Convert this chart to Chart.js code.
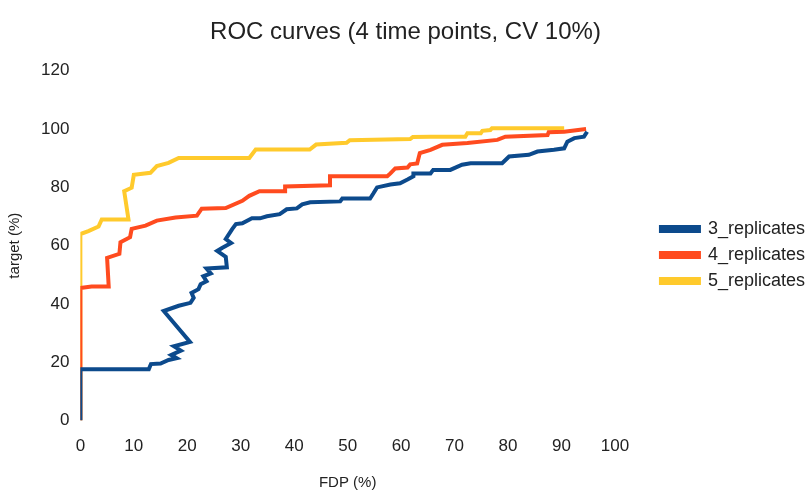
<!DOCTYPE html>
<html>
<head>
<meta charset="utf-8">
<script src="https://cdn.jsdelivr.net/npm/chart.js@4"></script>
<style>
  html, body { margin: 0; padding: 0; background: #fff; }
  #wrap { width: 811px; height: 492px; }
</style>
</head>
<body>
<div id="wrap"><canvas id="roc"></canvas></div>
<script>
const seriesNames = ["3_replicates", "4_replicates", "5_replicates"];
const xTicks = [0, 10, 20, 30, 40, 50, 60, 70, 80, 90, 100];
const yTicks = [0, 20, 40, 60, 80, 100, 120];

// FDP (%) and target (%) for each curve
const fdp3 = [0, 0, 12.8, 13.2, 15, 16.5, 18, 17, 18.8, 17.5, 20.5, 15.6, 18.4, 20.6, 21.2, 20.8, 22.1, 22.5, 23.6, 23, 24.4, 23.6, 27.4, 27.2, 25.6, 26.5, 28.2, 27.2, 28.4, 29.1, 30.3, 32.1, 33.6, 34.9, 37.3, 38.6, 40.5, 41.5, 43, 48.6, 49, 54.2, 54.8, 55.5, 58, 59.8, 61.2, 62.3, 62.3, 65.5, 66, 69.2, 71.4, 73, 78.9, 80.2, 83.9, 85.5, 88.6, 90.5, 91.1, 92.4, 94.2, 94.8];
const tgt3 = [0, 17.6, 17.6, 19.4, 19.6, 20.8, 21.4, 22.5, 24, 25.5, 27, 37.6, 39.4, 40.4, 42.1, 43.8, 45.1, 46.8, 47.8, 49.5, 50.5, 52.2, 52.6, 56.2, 58.2, 59.2, 60.9, 62.3, 65.7, 67.4, 67.7, 69.4, 69.4, 70.1, 70.8, 72.5, 72.8, 74.2, 74.9, 75.2, 76.2, 76.2, 77.9, 80, 81, 81.4, 82.7, 83.8, 84.8, 84.8, 86, 86, 87.8, 88.3, 88.3, 90.6, 91.2, 92.3, 92.9, 93.4, 95.7, 96.9, 97.4, 99.1];

const fdp4 = [0, 0, 2.1, 5.3, 5, 7.3, 7.5, 9.3, 9.6, 12.2, 14.3, 17.8, 21.8, 22.7, 27.2, 30.3, 31.6, 33.5, 38.3, 38.3, 46.7, 46.7, 57.4, 58, 58.9, 61.2, 61.7, 63, 63.5, 65.5, 67.7, 72.4, 78, 79.5, 87.4, 87.6, 90.5, 94.6];
const tgt4 = [0, 45.5, 46, 46, 55.8, 57.2, 61.2, 62.9, 65.8, 66.9, 68.6, 69.7, 70.3, 72.7, 72.9, 75.4, 77.1, 78.7, 78.7, 80.3, 80.7, 83.8, 83.8, 84.8, 86.5, 86.8, 87.9, 88.2, 91.8, 92.9, 94.6, 95.2, 96.3, 97.4, 98, 98.9, 99.1, 100];

const fdp5 = [0, 0, 1.5, 3.4, 4, 9, 8.2, 9.6, 10, 13.1, 14.3, 16.5, 18.4, 31.6, 32.8, 42.9, 44.1, 49.8, 50.4, 61.7, 62.2, 65.5, 72, 72.4, 74.9, 75.2, 76.7, 77, 90.5];
const tgt5 = [0, 64, 65, 66.6, 69, 69, 78.7, 79.9, 84.3, 85, 87.3, 88.4, 90.1, 90.1, 93, 93, 94.7, 95.3, 96.2, 96.6, 97.3, 97.4, 97.4, 98.6, 98.6, 99.4, 99.7, 100.3, 100.3];

const colors = ["#0c4a8c", "#ff4b1f", "#ffca2c"];

function pts(xs, ys) {
  return xs.map((x, i) => ({ x: x, y: ys[i] }));
}

const FONT = "'Liberation Sans', Arial, sans-serif";

// legend sits further right of (and a bit lower than) where Chart.js puts it
const LEGEND_EXTRA = 34;
const LEGEND_SHIFT = 38;
const LEGEND_DROP = 9;
const legendGap = {
  id: "legendGap",
  beforeLayout(chart) {
    const lg = chart.legend;
    if (!lg || lg._patched) return;
    const fit = lg.fit;
    lg.fit = function () { fit.call(this); this.width += LEGEND_EXTRA; };
    lg._patched = true;
  },
  afterLayout(chart) {
    const lg = chart.legend;
    if (!lg) return;
    lg.left += LEGEND_SHIFT;
    lg.top += LEGEND_DROP;
    lg.bottom += LEGEND_DROP;
  },
};

new Chart(document.getElementById("roc"), {
  type: "scatter",
  data: {
    datasets: [
      { label: seriesNames[0], data: pts(fdp3, tgt3) },
      { label: seriesNames[1], data: pts(fdp4, tgt4) },
      { label: seriesNames[2], data: pts(fdp5, tgt5) },
    ].map((d, i) => Object.assign(d, {
      showLine: true,
      borderColor: colors[i],
      backgroundColor: colors[i],
      borderWidth: 4,
      pointRadius: 0,
      tension: 0,
    })),
  },
  plugins: [legendGap],
  options: {
    responsive: true,
    maintainAspectRatio: false,
    animation: false,
    layout: { padding: 0 },
    plugins: {
      title: {
        display: true,
        text: "ROC curves (4 time points, CV 10%)",
        color: "#222",
        font: { family: FONT, size: 24, weight: "normal" },
        padding: { top: 18, bottom: 24 },
      },
      legend: {
        position: "right",
        labels: {
          color: "#222",
          font: { family: FONT, size: 18 },
          boxWidth: 38,
          boxHeight: 4,
          padding: 8,
        },
      },
      tooltip: { enabled: false },
    },
    scales: {
      x: {
        type: "linear",
        min: 0,
        max: 100,
        afterBuildTicks: (s) => { s.ticks = xTicks.map((v) => ({ value: v })); },
        grid: { display: false, drawTicks: false },
        border: { display: false },
        ticks: { color: "#222", font: { family: FONT, size: 17 }, padding: 16 },
        title: {
          display: true,
          text: "FDP (%)",
          color: "#222",
          font: { family: FONT, size: 15 },
          padding: { top: 1, bottom: 0 },
        },
      },
      y: {
        type: "linear",
        min: 0,
        max: 120,
        afterBuildTicks: (s) => { s.ticks = yTicks.map((v) => ({ value: v })); },
        grid: { display: false, drawTicks: false },
        border: { display: false },
        ticks: { color: "#222", font: { family: FONT, size: 17 }, padding: 11 },
        title: {
          display: true,
          text: "target (%)",
          color: "#222",
          font: { family: FONT, size: 15 },
          padding: { top: 6, bottom: 6 },
        },
      },
    },
  },
});
</script>
</body>
</html>
